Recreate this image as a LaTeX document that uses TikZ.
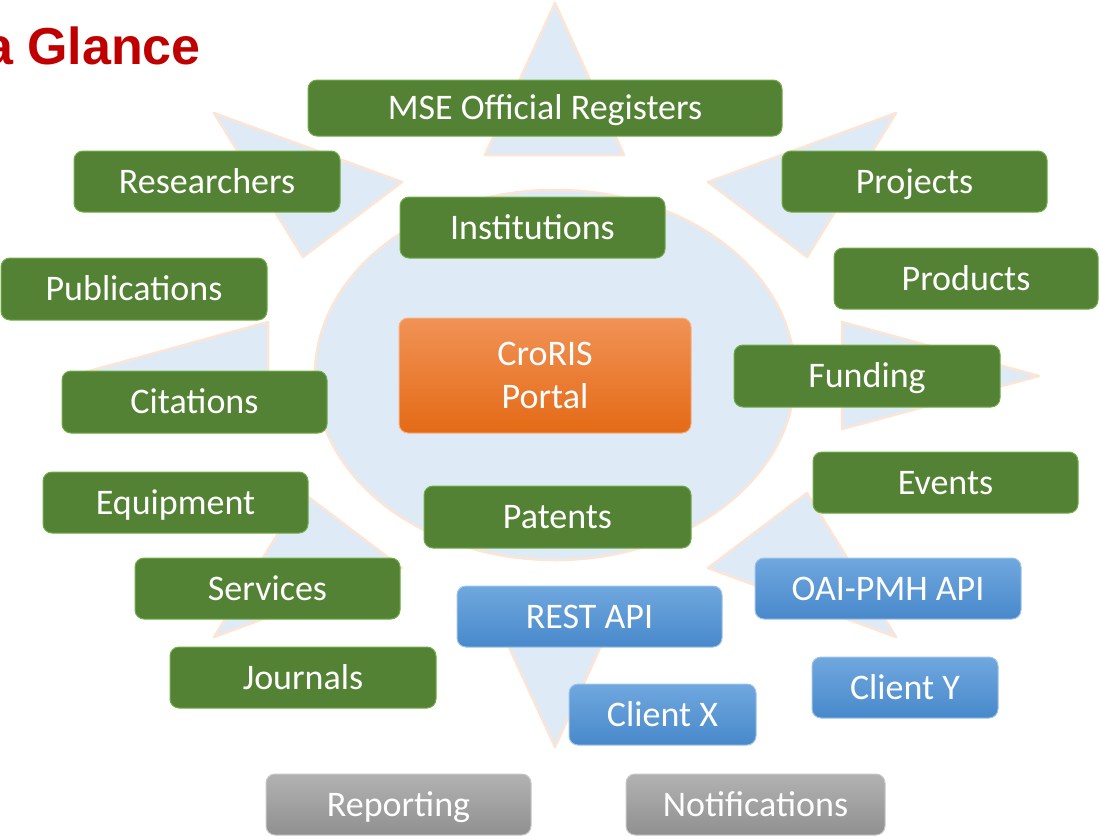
\documentclass[tikz,border=0pt]{standalone}
\usepackage{fontspec}
\setmainfont{Carlito}
\newfontfamily\headfont{Liberation Sans}
\definecolor{raybg}{HTML}{DEEBF7}
\definecolor{rayline}{HTML}{FBE5D6}
\definecolor{tagGreen}{HTML}{548235}
\definecolor{tagGreenLine}{HTML}{70AD47}
\definecolor{headRed}{HTML}{C00000}

\begin{document}
\begin{tikzpicture}[x=1pt,y=-1pt,
  ray/.style={fill=raybg,draw=rayline,line width=2.5pt,line join=round},
  tag/.style={rounded corners=9pt,minimum height=61pt,inner sep=0pt,text=white,
    font=\fontsize{36}{43}\selectfont,line width=1pt},
  label/.style={text height=23.5pt,text depth=0pt},
  greentag/.style={tag,label,fill=tagGreen,draw=tagGreenLine},
  bluetag/.style={tag,label,top color={rgb,255:red,112;green,167;blue,223},
    bottom color={rgb,255:red,72;green,137;blue,203},draw={rgb,255:red,157;green,195;blue,230}},
  graytag/.style={tag,label,top color={rgb,255:red,178;green,178;blue,178},
    bottom color={rgb,255:red,144;green,144;blue,144},draw={rgb,255:red,200;green,200;blue,200}},
  portal/.style={tag,align=center,top color={rgb,255:red,241;green,146;blue,86},
    middle color={rgb,255:red,240;green,126;blue,44},bottom color={rgb,255:red,228;green,106;blue,22},
    draw={rgb,255:red,244;green,177;blue,131}}]
\useasboundingbox (0,0) rectangle (1099,835);
\clip (0,0) rectangle (1099,835);

% sun
\filldraw[ray](485,155)--(555,3)--(624,155)--cycle;
\filldraw[ray](485,595)--(555,747)--(624,595)--cycle;
\filldraw[ray](708,182)--(896,113)--(807,257)--cycle;
\filldraw[ray](402,182)--(214,113)--(303,257)--cycle;
\filldraw[ray](708,568)--(896,637)--(807,493)--cycle;
\filldraw[ray](402,568)--(214,637)--(303,493)--cycle;
\filldraw[ray](842,322)--(1039,376)--(842,429)--cycle;
\filldraw[ray](268,322)--(71,376)--(268,429)--cycle;
\filldraw[ray](555,375) ellipse[x radius=240,y radius=185];

\node[anchor=base east,inner sep=0pt,text=headRed,font=\headfont\bfseries\fontsize{52}{60}\selectfont] (head) at (201,64) {a Glance};

\node[portal,minimum width=292pt,minimum height=115pt] (portal) at (545,375.5) {CroRIS\\Portal};

\node[greentag,minimum width=474pt,minimum height=56pt] (registers) at (545,108) {MSE Official Registers};
\node[greentag,minimum width=266pt] (researchers) at (207,181.5) {Researchers};
\node[greentag,minimum width=265pt] (institutions) at (532.5,227.5) {Institutions};
\node[greentag,minimum width=265pt] (projects) at (914.5,181.5) {Projects};
\node[greentag,minimum width=264pt] (products) at (966,278.5) {Products};
\node[greentag,minimum width=266pt,minimum height=62pt] (publications) at (134,289) {Publications};
\node[greentag,minimum width=266pt,minimum height=62pt] (funding) at (867,376) {Funding};
\node[greentag,minimum width=265pt,minimum height=62pt] (citations) at (194.5,402) {Citations};
\node[greentag,minimum width=265pt] (equipment) at (175.5,502.5) {Equipment};
\node[greentag,minimum width=265pt] (events) at (945.5,482.5) {Events};
\node[greentag,minimum width=267pt,minimum height=62pt] (patents) at (557.5,517) {Patents};
\node[greentag,minimum width=265pt] (services) at (267.5,588.5) {Services};
\node[greentag,minimum width=266pt] (journals) at (303,677.5) {Journals};

\node[bluetag,minimum width=265pt] (rest) at (589.5,616.5) {REST API};
\node[bluetag,minimum width=266pt] (oai) at (888,588.5) {OAI-PMH API};
\node[bluetag,minimum width=187pt] (clientx) at (662.5,714.5) {Client X};
\node[bluetag,minimum width=186pt] (clienty) at (905,687.5) {Client Y};

\node[graytag,minimum width=265pt] (reporting) at (398.5,804.5) {Reporting};
\node[graytag,minimum width=259pt] (notifications) at (755.5,804.5) {Notifications};
\end{tikzpicture}
\end{document}
